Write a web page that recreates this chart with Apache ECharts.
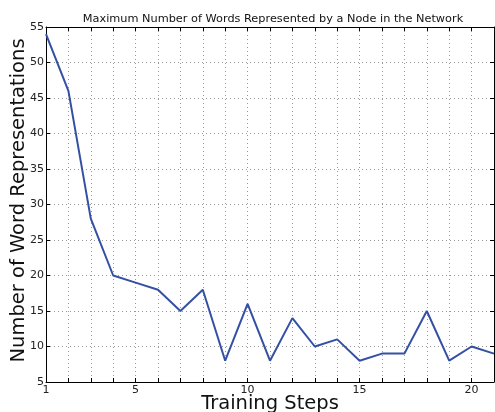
<!DOCTYPE html>
<html>
<head>
<meta charset="utf-8">
<script src="https://cdn.jsdelivr.net/npm/echarts@6/dist/echarts.min.js"></script>
<style>
  html, body { margin: 0; padding: 0; background: #fff; }
  #chart { width: 495px; height: 412px; }
</style>
</head>
<body>
<div id="chart"></div>
<script>
// training step on x, max words per node on y
const steps = [1, 2, 3, 4, 5, 6, 7, 8, 9, 10, 11, 12, 13, 14, 15, 16, 17, 18, 19, 20, 21];
const maxWords = [54, 46, 28, 20, 19, 18, 15, 18, 8, 16, 8, 14, 10, 11, 8, 9, 9, 15, 8, 10, 9];
const xTickLabels = [1, 5, 10, 15, 20];

const chart = echarts.init(document.getElementById('chart'));

const gridLine = { show: true, lineStyle: { color: '#999', type: [1, 3], width: 1 } };
const spine = { show: true, onZero: false, lineStyle: { color: '#000', width: 1 } };
const tickIn = { show: true, inside: true, length: 4, lineStyle: { color: '#000' } };
const labelFont = { color: '#222', fontSize: 11, fontFamily: 'DejaVu Sans' };

chart.setOption({
  animation: false,
  title: {
    text: 'Maximum Number of Words Represented by a Node in the Network',
    left: 268,
    textAlign: 'center',
    top: 9,
    textStyle: { fontSize: 11.3, fontWeight: 'normal', color: '#111', fontFamily: 'DejaVu Sans' }
  },
  grid: { left: 46, right: 1, top: 27, bottom: 30, outerBoundsMode: 'none' },
  xAxis: [
    {
      type: 'value',
      min: 1,
      max: 21,
      interval: 1,
      name: 'Training Steps',
      nameLocation: 'middle',
      nameGap: 12,
      nameMoveOverlap: false,
      nameTextStyle: { fontSize: 19.5, color: '#111', fontFamily: 'DejaVu Sans' },
      axisLine: spine,
      axisTick: tickIn,
      splitLine: gridLine,
      axisLabel: Object.assign({}, labelFont, {
        margin: 3,
        showMaxLabel: false,
        formatter: v => (xTickLabels.indexOf(v) >= 0 ? String(v) : '')
      })
    },
    {
      type: 'value',
      position: 'top',
      min: 1,
      max: 21,
      interval: 1,
      axisLine: spine,
      axisTick: tickIn,
      axisLabel: { show: false },
      splitLine: { show: false }
    }
  ],
  yAxis: [
    {
      type: 'value',
      min: 5,
      max: 55,
      interval: 5,
      name: 'Number of Word Representations',
      nameLocation: 'middle',
      nameGap: 17,
      nameMoveOverlap: false,
      nameTextStyle: { fontSize: 19.5, color: '#111', fontFamily: 'DejaVu Sans', padding: [0, 0, 0, 8] },
      axisLine: spine,
      axisTick: tickIn,
      splitLine: gridLine,
      axisLabel: Object.assign({}, labelFont, { margin: 2 })
    },
    {
      type: 'value',
      position: 'right',
      min: 5,
      max: 55,
      interval: 5,
      axisLine: spine,
      axisTick: tickIn,
      axisLabel: { show: false },
      splitLine: { show: false }
    }
  ],
  series: [
    {
      type: 'line',
      data: steps.map((s, i) => [s, maxWords[i]]),
      showSymbol: false,
      lineStyle: { color: '#3450a4', width: 2 },
      itemStyle: { color: '#3450a4' }
    }
  ]
});
</script>
</body>
</html>
